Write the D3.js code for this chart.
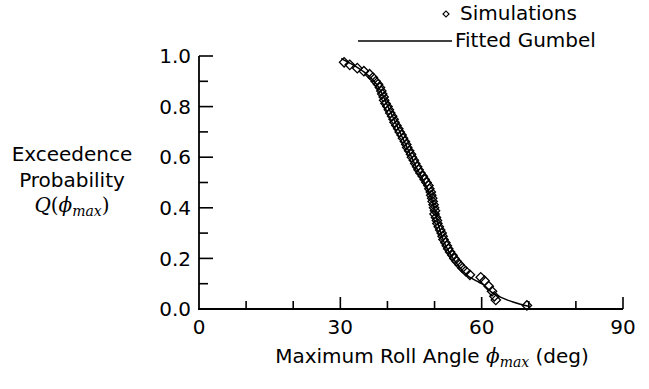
<!DOCTYPE html>
<html><head><meta charset="utf-8">
<script src="https://cdn.jsdelivr.net/npm/d3@7"></script>
<style>body{margin:0;background:#fff}svg{display:block}</style>
</head><body>
<svg id="c" width="649" height="389"></svg>
<script>
// Simulation points: [max roll angle (deg), exceedance probability]
const simX = [30.8,32.0,33.6,35.0,36.2,36.9,37.5,38.0,38.4,38.7,38.9,39.2,39.3,39.6,40.0,40.3,40.6,41.0,41.3,41.5,41.9,42.3,42.6,43.0,43.3,43.7,44.0,44.2,44.6,45.0,45.2,45.6,45.9,46.3,46.6,47.0,47.5,47.9,48.3,48.7,48.9,49.2,49.3,49.5,49.6,49.8,49.9,50.1,50.0,50.3,50.5,50.6,50.9,51.2,51.5,51.7,51.9,52.3,52.6,52.9,53.3,53.8,54.2,54.7,55.3,55.9,56.6,57.5,59.8,60.6,61.5,62.2,62.7,63.0,69.6];
const simQ = [0.975,0.965,0.952,0.940,0.928,0.915,0.900,0.888,0.875,0.862,0.850,0.838,0.825,0.812,0.800,0.788,0.775,0.762,0.750,0.738,0.725,0.712,0.700,0.688,0.675,0.662,0.650,0.638,0.625,0.612,0.600,0.588,0.575,0.562,0.550,0.538,0.525,0.512,0.500,0.488,0.475,0.462,0.450,0.438,0.425,0.412,0.400,0.388,0.375,0.362,0.350,0.338,0.325,0.312,0.300,0.288,0.275,0.262,0.250,0.238,0.225,0.212,0.200,0.188,0.175,0.162,0.150,0.135,0.125,0.112,0.090,0.070,0.050,0.036,0.014];
// Fitted Gumbel curve
const fitX = [30.2,31,32,33,34,35,36,37,38,39,40,41,42,43,44,45,46,47,48,49,50,51,52,53,54,55,56,57,58,59,60,61,62,63,64,65,66,67,68,69,70.2];
const fitQ = [0.990,0.982,0.972,0.962,0.950,0.937,0.922,0.903,0.880,0.846,0.805,0.765,0.725,0.685,0.645,0.605,0.565,0.530,0.495,0.455,0.395,0.320,0.265,0.228,0.198,0.172,0.150,0.132,0.120,0.110,0.100,0.086,0.068,0.056,0.047,0.039,0.032,0.026,0.020,0.015,0.010];
const xTicks = [0,10,20,30,40,50,60,70,80,90];
const xLabels = [0,30,60,90];
const yTicks = [0,0.1,0.2,0.3,0.4,0.5,0.6,0.7,0.8,0.9,1.0];
const yLabels = [0,0.2,0.4,0.6,0.8,1.0];

const svg = d3.select("#c");
const x = d3.scaleLinear().domain([0,90]).range([199,623]);
const y = d3.scaleLinear().domain([0,1]).range([309,56]);
const font = "'DejaVu Sans', sans-serif";
const math = "'DejaVu Serif', serif";

// axes
svg.append("line").attr("x1",x(0)).attr("x2",x(0)).attr("y1",y(1)).attr("y2",y(0))
  .attr("stroke","#000").attr("stroke-width",1.8);
svg.append("line").attr("x1",x(0)-1).attr("x2",x(90)).attr("y1",y(0)).attr("y2",y(0))
  .attr("stroke","#000").attr("stroke-width",1.8);
const isMajY = v => yLabels.some(l => Math.abs(l - v) < 1e-9);
svg.selectAll(".yt").data(yTicks.filter(v=>v>0)).join("line")
  .attr("x1",x(0)).attr("x2",v=>x(0)+(isMajY(v)?14:9))
  .attr("y1",v=>y(v)).attr("y2",v=>y(v)).attr("stroke","#000").attr("stroke-width",1.6);
svg.selectAll(".xt").data(xTicks.filter(v=>v>0)).join("line")
  .attr("x1",v=>x(v)).attr("x2",v=>x(v))
  .attr("y1",y(0)).attr("y2",v=>y(0)-(xLabels.includes(v)?12:8)).attr("stroke","#000").attr("stroke-width",1.6);

svg.selectAll(".yl").data(yLabels).join("text")
  .attr("x",x(0)-8).attr("y",v=>y(v)).attr("dy","0.36em").attr("text-anchor","end")
  .attr("font-family",font).attr("font-size",20).text(v=>v.toFixed(1));
svg.selectAll(".xl").data(xLabels).join("text")
  .attr("x",v=>x(v)).attr("y",334).attr("text-anchor","middle")
  .attr("font-family",font).attr("font-size",20).text(v=>v);

// fitted curve
const line = d3.line().x((d,i)=>x(fitX[i])).y((d,i)=>y(fitQ[i])).curve(d3.curveMonotoneX);
svg.append("path").attr("d",line(fitX)).attr("fill","none").attr("stroke","#000").attr("stroke-width",1.5);

// simulations
const diamond = d3.symbol().type(d3.symbolSquare).size(44);
svg.selectAll(".pt").data(simX).join("path")
  .attr("d",diamond()).attr("transform",(d,i)=>`translate(${x(d)},${y(simQ[i])}) rotate(45)`)
  .attr("fill","none").attr("stroke","#000").attr("stroke-width",1.3);

// legend
svg.append("path").attr("d",d3.symbol().type(d3.symbolSquare).size(18)())
  .attr("transform","translate(446,14) rotate(45)").attr("fill","none").attr("stroke","#000").attr("stroke-width",1.2);
svg.append("text").attr("x",460).attr("y",20).attr("font-family",font).attr("font-size",20).text("Simulations");
svg.append("line").attr("x1",358).attr("x2",452).attr("y1",41).attr("y2",41).attr("stroke","#000").attr("stroke-width",1.5);
svg.append("text").attr("x",455).attr("y",47).attr("font-family",font).attr("font-size",20).text("Fitted Gumbel");

// y label
const yl = svg.append("text").attr("text-anchor","middle").attr("font-family",font).attr("font-size",20);
yl.append("tspan").attr("x",72).attr("y",161).text("Exceedence");
yl.append("tspan").attr("x",72).attr("y",187).text("Probability");
const q = svg.append("text").attr("x",72).attr("y",212).attr("text-anchor","middle").attr("font-size",20).attr("font-family",math);
q.append("tspan").attr("font-style","italic").text("Q");
q.append("tspan").text("(");
q.append("tspan").attr("font-style","italic").text("ϕ");
q.append("tspan").attr("font-style","italic").attr("font-size",14).attr("dy",4).text("max");
q.append("tspan").attr("dy",-4).text(")");

// x label
const xl = svg.append("text").attr("x",432).attr("y",363).attr("text-anchor","middle").attr("font-family",font).attr("font-size",20);
xl.append("tspan").text("Maximum Roll Angle ");
xl.append("tspan").attr("font-family",math).attr("font-style","italic").text("ϕ");
xl.append("tspan").attr("font-family",math).attr("font-style","italic").attr("font-size",14).attr("dy",4).text("max");
xl.append("tspan").attr("dy",-4).text(" (deg)");
</script>
</body></html>
